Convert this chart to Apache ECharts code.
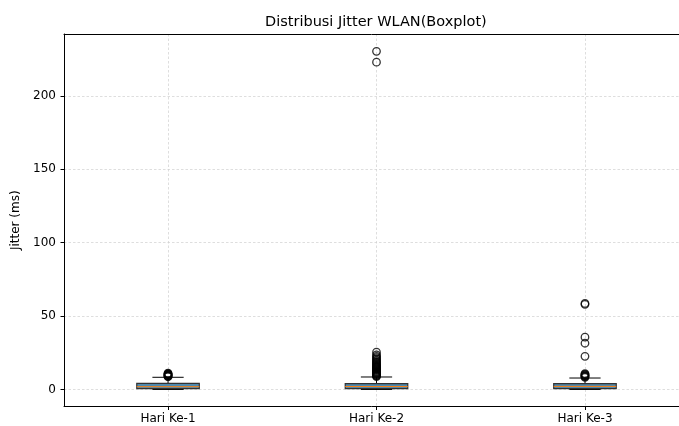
<!DOCTYPE html>
<html>
<head>
<meta charset="utf-8">
<script src="https://cdn.jsdelivr.net/npm/echarts@6/dist/echarts.min.js"></script>
<style>
html,body{margin:0;padding:0;background:#fff;}
#chart{width:679px;height:426px;}
</style>
</head>
<body>
<div id="chart"></div>
<script>
const categories = ['Hari Ke-1', 'Hari Ke-2', 'Hari Ke-3'];
const categoryPositions = [1, 2, 3];
const yTicks = [0, 50, 100, 150, 200];
// [lower whisker, Q1, median, Q3, upper whisker]
const boxStats = [
  [0, 0.6, 1.9, 4.1, 8.3],
  [0, 0.6, 2.0, 4.0, 8.5],
  [0, 0.6, 2.1, 4.0, 7.8]
];
const outliers1 = [8.7, 9.0, 9.3, 9.6, 9.9, 10.2, 10.5, 10.8, 11.1];
const outliers2 = [8.8, 9.2, 9.6, 10.0, 10.4, 10.8, 11.2, 11.6, 12.0, 12.5, 13.0, 13.5, 14.0, 14.5, 15.0, 15.5, 16.0, 16.6, 17.2, 17.8, 18.5, 19.2, 20.0, 20.8, 21.7, 22.6, 23.6, 25.4, 223.0, 230.4];
const outliers3 = [8.3, 8.7, 9.1, 9.5, 9.9, 10.3, 10.8, 22.6, 31.5, 35.6, 58.0, 58.6];

const chart = echarts.init(document.getElementById('chart'), null, {renderer: 'canvas'});

const outlierData = [];
[outliers1, outliers2, outliers3].forEach((arr, i) => arr.forEach(v => outlierData.push([categoryPositions[i], v])));

const boxData = boxStats.map((s, i) => [categoryPositions[i]].concat(s));

const font = 'DejaVu Sans';
const gridLine = {show: true, lineStyle: {color: '#d0d0d0', type: [2.5, 2], width: 0.7}};

chart.setOption({
  animation: false,
  backgroundColor: '#fff',
  title: {
    text: 'Distribusi Jitter WLAN(Boxplot)',
    left: 260, top: 10,
    textStyle: {fontFamily: font, fontSize: 14.5, fontWeight: 'normal', color: '#000'}
  },
  grid: {
    left: 64, top: 34, right: 0, bottom: 19.5,
    show: false
  },
  xAxis: [
    {
      type: 'value',
      min: 0.501, max: 3.451,
      position: 'bottom',
      axisLine: {show: true, onZero: false, lineStyle: {color: '#000', width: 1}},
      axisTick: {show: true, length: 3.5, customValues: categoryPositions, lineStyle: {color: '#000'}},
      axisLabel: {
        fontFamily: font, fontSize: 12, color: '#000', margin: 6,
        customValues: categoryPositions,
        formatter: v => categories[categoryPositions.indexOf(Math.round(v))] || ''
      },
      splitLine: gridLine
    },
    {
      type: 'value',
      min: 0.501, max: 3.451,
      position: 'top',
      axisLine: {show: true, onZero: false, lineStyle: {color: '#000', width: 1}},
      axisTick: {show: false},
      axisLabel: {show: false},
      splitLine: {show: false}
    }
  ],
  yAxis: {
    type: 'value',
    min: -11.6, max: 242.2,
    name: 'Jitter (ms)', nameLocation: 'middle', nameGap: 38, nameRotate: 90,
    nameTextStyle: {fontFamily: font, fontSize: 12, color: '#000'},
    axisLine: {show: true, onZero: false, lineStyle: {color: '#000', width: 1}},
    axisTick: {show: true, length: 3.5, customValues: yTicks, lineStyle: {color: '#000'}},
    axisLabel: {fontFamily: font, fontSize: 12, color: '#000', margin: 8, customValues: yTicks},
    splitLine: gridLine
  },
  series: [
    {
      type: 'custom',
      data: boxData,
      encode: {x: 0, y: [1, 2, 3, 4, 5]},
      z: 3,
      renderItem: function (params, api) {
        const pos = api.value(0);
        const bw = api.size([0.3, 0])[0];
        const cx = api.coord([pos, 0])[0];
        const y = [1, 2, 3, 4, 5].map(k => api.coord([pos, api.value(k)])[1]);
        const capHalf = bw / 4;
        const black = {stroke: '#000', lineWidth: 1, fill: null};
        return {
          type: 'group',
          children: [
            {type: 'line', shape: {x1: cx, y1: y[0], x2: cx, y2: y[1]}, style: black},
            {type: 'line', shape: {x1: cx, y1: y[3], x2: cx, y2: y[4]}, style: black},
            {type: 'line', shape: {x1: cx - capHalf, y1: y[0], x2: cx + capHalf, y2: y[0]}, style: black},
            {type: 'line', shape: {x1: cx - capHalf, y1: y[4], x2: cx + capHalf, y2: y[4]}, style: black},
            {type: 'rect', shape: {x: cx - bw / 2, y: y[3], width: bw, height: y[1] - y[3]},
              style: {fill: '#4f89ad', stroke: '#333', lineWidth: 1.2}},
            {type: 'line', shape: {x1: cx - bw / 2, y1: y[2], x2: cx + bw / 2, y2: y[2]},
              style: {stroke: '#ff7f0e', lineWidth: 1}}
          ]
        };
      }
    },
    {
      type: 'scatter',
      data: outlierData,
      symbol: 'circle',
      symbolSize: 7.5,
      z: 4,
      itemStyle: {color: 'rgba(0,0,0,0)', borderColor: '#000', borderWidth: 1.3}
    }
  ]
});
</script>
</body>
</html>
